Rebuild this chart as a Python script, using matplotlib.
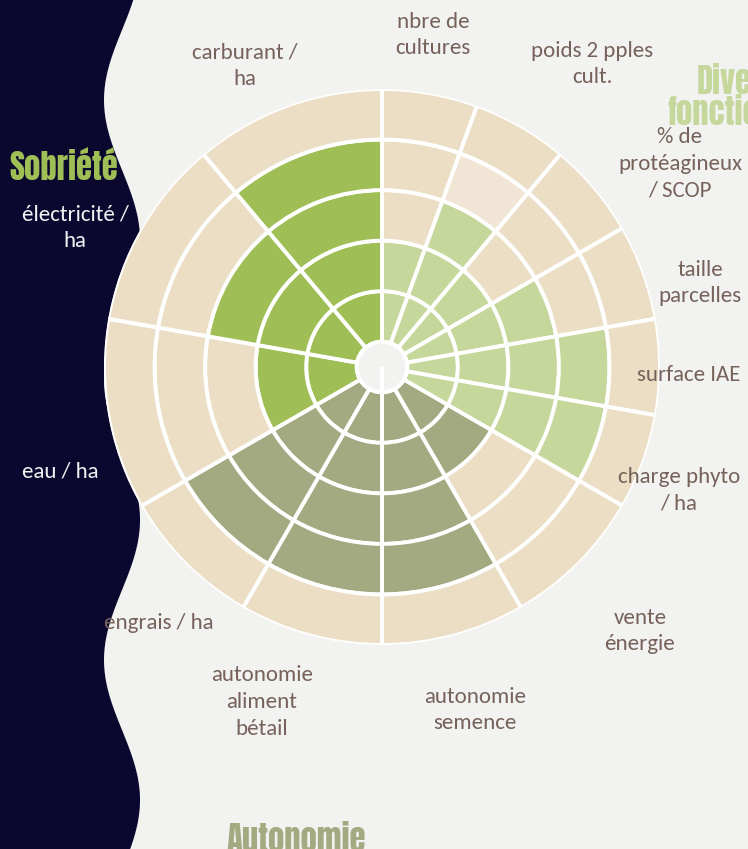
import numpy as np
import matplotlib.pyplot as plt
from matplotlib.patches import Polygon

# Critères, dans l'ordre horaire depuis le haut
CRITERES = [
    "nbre de\ncultures", "poids 2 pples\ncult.", "% de\nprotéagineux\n/ SCOP",
    "taille\nparcelles", "surface IAE", "charge phyto\n/ ha",
    "vente\nénergie", "autonomie\nsemence", "autonomie\naliment\nbétail", "engrais / ha",
    "eau / ha", "électricité /\nha", "carburant /\nha",
]
GROUPES = ["Diversité fonctionnelle"] * 6 + ["Autonomie"] * 4 + ["Sobriété"] * 3
NOTES = [2, 3, 2, 3, 4, 4, 2, 4, 4, 4, 2, 3, 4]
NOTES_PALES = [0, 1, 0, 0, 0, 0, 0, 0, 0, 0, 0, 0, 0]  # anneau pâle en plus
N_ANNEAUX = 5

COULEURS = {
    "Diversité fonctionnelle": "#c5d79b",
    "Autonomie": "#a3a981",
    "Sobriété": "#9fbe55",
}
BEIGE = "#ebdec5"
BEIGE_PALE = "#f1e6d6"
FOND = "#f2f2f0"
NAVY = "#0b0830"
BRUN = "#76625b"

W, H = 748, 849
CX, CY, R = 382, 367, 278

# position des étiquettes (px)
POS_ETIQ = [(433, 35), (592, 64), (680, 164), (700, 283), (689, 375), (679, 490),
            (640, 631), (475, 710), (262, 702), (159, 623), (60, 472), (75, 228), (245, 66)]
ETIQ_BLANCHES = ["eau / ha", "électricité /\nha"]

fig = plt.figure(figsize=(W / 100, H / 100), dpi=100)
fig.patch.set_facecolor(FOND)

# fond : bande bleu nuit ondulée à gauche
bg = fig.add_axes([0, 0, 1, 1])
bg.set_xlim(0, W)
bg.set_ylim(H, 0)
bg.axis("off")
ys = np.linspace(0, H, 300)
xs = 122 + 18 * np.cos(2 * np.pi * (ys + 40) / 280)
bg.add_patch(Polygon(np.column_stack([np.r_[0, xs, 0], np.r_[0, ys, H]]),
                     closed=True, color=NAVY, lw=0))

# graphique polaire
ax = fig.add_axes([(CX - R) / W, (H - CY - R) / H, 2 * R / W, 2 * R / H], projection="polar")
ax.set_theta_zero_location("N")
ax.set_theta_direction(-1)
ax.patch.set_alpha(0)

# largeur des secteurs : chaque groupe occupe un tiers du cercle
n_groupe = {g: GROUPES.count(g) for g in COULEURS}
largeurs = np.array([2 * np.pi / 3 / n_groupe[g] for g in GROUPES])
debuts = np.r_[0, np.cumsum(largeurs)[:-1]]
centres = debuts + largeurs / 2

r0 = 0.5
for i in range(len(CRITERES)):
    for k in range(N_ANNEAUX):
        if k < NOTES[i]:
            c = COULEURS[GROUPES[i]]
        elif k < NOTES[i] + NOTES_PALES[i]:
            c = BEIGE_PALE
        else:
            c = BEIGE
        ax.bar(centres[i], 1, width=largeurs[i], bottom=r0 + k, color=c,
               edgecolor="white", linewidth=2.8)
ax.bar(0, r0, width=2 * np.pi, bottom=0, color=FOND, edgecolor="white", linewidth=2.8)
ax.set_ylim(0, r0 + N_ANNEAUX)
ax.axis("off")

# étiquettes
for lab, (x, y) in zip(CRITERES, POS_ETIQ):
    col = "#f2f2f2" if lab in ETIQ_BLANCHES else BRUN
    fig.text(x / W, 1 - y / H, lab, ha="center", va="center", fontsize=16.5,
             family="Carlito", color=col, linespacing=1.42)

# titres de groupe
titre = dict(family=["Anton", "DejaVu Sans"], fontsize=23.5, ha="center", va="center")
fig.text(64 / W, 1 - 167 / H, "Sobriété", color=COULEURS["Sobriété"], **titre)
fig.text(754 / W, 1 - 97 / H, "Diversité\nfonctionnelle", color=COULEURS["Diversité fonctionnelle"],
         linespacing=0.95, **titre)
fig.text(296 / W, 1 - 839 / H, "Autonomie", color=COULEURS["Autonomie"], **titre)

fig.savefig("out.png", dpi=100, facecolor=FOND)
